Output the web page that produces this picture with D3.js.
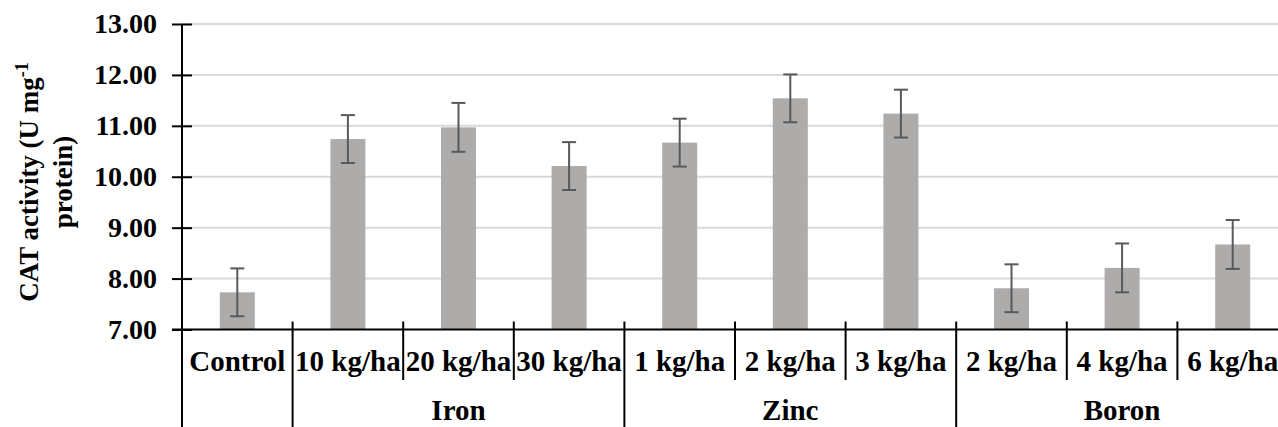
<!DOCTYPE html>
<html>
<head>
<meta charset="utf-8">
<script src="https://cdn.jsdelivr.net/npm/d3@7"></script>
<style>
  body { margin: 0; background: #fff; }
</style>
</head>
<body>
<div id="chart"></div>
<script>
var categories = ["Control", "10 kg/ha", "20 kg/ha", "30 kg/ha", "1 kg/ha", "2 kg/ha", "3 kg/ha", "2 kg/ha", "4 kg/ha", "6 kg/ha"];
var groupOf = ["", "Iron", "Iron", "Iron", "Zinc", "Zinc", "Zinc", "Boron", "Boron", "Boron"];
var groups = ["Iron", "Zinc", "Boron"];
var values = [7.73, 10.74, 10.97, 10.21, 10.67, 11.54, 11.24, 7.81, 8.21, 8.67];
var errors = [0.47, 0.47, 0.48, 0.47, 0.47, 0.47, 0.47, 0.47, 0.48, 0.48];
var yTicks = [7, 8, 9, 10, 11, 12, 13];

var width = 1278, height = 427;
var plotLeft = 182, plotTop = 24, plotBottom = 329.5, step = 110.6;
var serif = "'Liberation Serif', 'Times New Roman', Tinos, 'DejaVu Serif', serif";

var svg = d3.select("#chart").append("svg")
      .attr("width", width)
      .attr("height", height)
      .attr("font-family", serif)
      .attr("font-weight", "bold");

var idx = d3.range(categories.length);
var x = d3.scaleBand()
      .domain(idx)
      .range([plotLeft, plotLeft + step * categories.length]);
var y = d3.scaleLinear()
      .domain([7, 13])
      .range([plotBottom, plotTop]);

// gridlines
svg.append("g").selectAll("line")
  .data(yTicks.slice(1))
  .enter().append("line")
  .attr("x1", plotLeft).attr("x2", width)
  .attr("y1", function(d){ return y(d); })
  .attr("y2", function(d){ return y(d); })
  .attr("stroke", "#d9d9d9")
  .attr("stroke-width", 2);

// bars
var barW = 35;
svg.append("g").selectAll("rect")
  .data(idx)
  .enter().append("rect")
  .attr("x", function(i){ return x(i) + x.bandwidth() / 2 - barW / 2; })
  .attr("y", function(i){ return y(values[i]); })
  .attr("width", barW)
  .attr("height", function(i){ return plotBottom - y(values[i]); })
  .attr("fill", "#aeabab");

// error bars
var eg = svg.append("g").attr("stroke", "#595959").attr("stroke-width", 2);
idx.forEach(function(i){
  var cx = x(i) + x.bandwidth() / 2;
  var hi = y(values[i] + errors[i]), lo = y(values[i] - errors[i]);
  eg.append("line").attr("x1", cx).attr("x2", cx).attr("y1", hi).attr("y2", lo);
  eg.append("line").attr("x1", cx - 7).attr("x2", cx + 7).attr("y1", hi).attr("y2", hi);
  eg.append("line").attr("x1", cx - 7).attr("x2", cx + 7).attr("y1", lo).attr("y2", lo);
});

// y axis
var yAxis = d3.axisLeft(y)
      .tickValues(yTicks)
      .tickFormat(d3.format(".2f"))
      .tickSize(10)
      .tickPadding(14);
var ya = svg.append("g")
      .attr("transform", "translate(" + plotLeft + ",0)")
      .call(yAxis)
      .attr("font-family", serif)
      .attr("font-size", 28);
ya.select(".domain").remove();
ya.selectAll(".tick line").attr("x2", -10).attr("x1", 10).attr("stroke", "#000").attr("stroke-width", 2);
ya.selectAll(".tick text")
  .style("font-family", serif)
  .attr("x", -25).attr("fill", "#000");
svg.append("line")
  .attr("x1", plotLeft).attr("x2", plotLeft)
  .attr("y1", plotTop).attr("y2", height)
  .attr("stroke", "#000").attr("stroke-width", 2);

// x axis line
svg.append("line")
  .attr("x1", plotLeft - 10).attr("x2", width)
  .attr("y1", plotBottom).attr("y2", plotBottom)
  .attr("stroke", "#000").attr("stroke-width", 2);

// category separators
var seps = d3.range(1, categories.length + 1);
svg.append("g").selectAll("line")
  .data(seps)
  .enter().append("line")
  .attr("x1", function(i){ return plotLeft + step * i; })
  .attr("x2", function(i){ return plotLeft + step * i; })
  .attr("y1", plotBottom - 8)
  .attr("y2", function(i){
    return (i < categories.length && groupOf[i] !== groupOf[i - 1]) ? height : 380;
  })
  .attr("stroke", "#000").attr("stroke-width", 2);

// category labels
svg.append("g").selectAll("text")
  .data(idx)
  .enter().append("text")
  .style("font-family", serif)
  .attr("x", function(i){ return x(i) + x.bandwidth() / 2; })
  .attr("y", 371)
  .attr("text-anchor", "middle")
  .attr("font-size", 29)
  .text(function(i){ return categories[i]; });

// group labels
svg.append("g").selectAll("text")
  .data(groups)
  .enter().append("text")
  .style("font-family", serif)
  .attr("x", function(g){
    var ids = idx.filter(function(i){ return groupOf[i] === g; });
    return (x(ids[0]) + x(ids[ids.length - 1]) + x.bandwidth()) / 2;
  })
  .attr("y", 420)
  .attr("text-anchor", "middle")
  .attr("font-size", 29)
  .text(function(g){ return g; });

// y title
var t = svg.append("text")
      .style("font-family", serif)
      .attr("transform", "translate(38,182) rotate(-90)")
      .attr("text-anchor", "middle")
      .attr("font-size", 27);
t.append("tspan").text("CAT activity (U mg");
t.append("tspan").attr("dy", -10).attr("font-size", 18).text("-1");
svg.append("text")
  .style("font-family", serif)
  .attr("transform", "translate(72,182) rotate(-90)")
  .attr("text-anchor", "middle")
  .attr("font-size", 27)
  .text("protein)");
</script>
</body>
</html>
